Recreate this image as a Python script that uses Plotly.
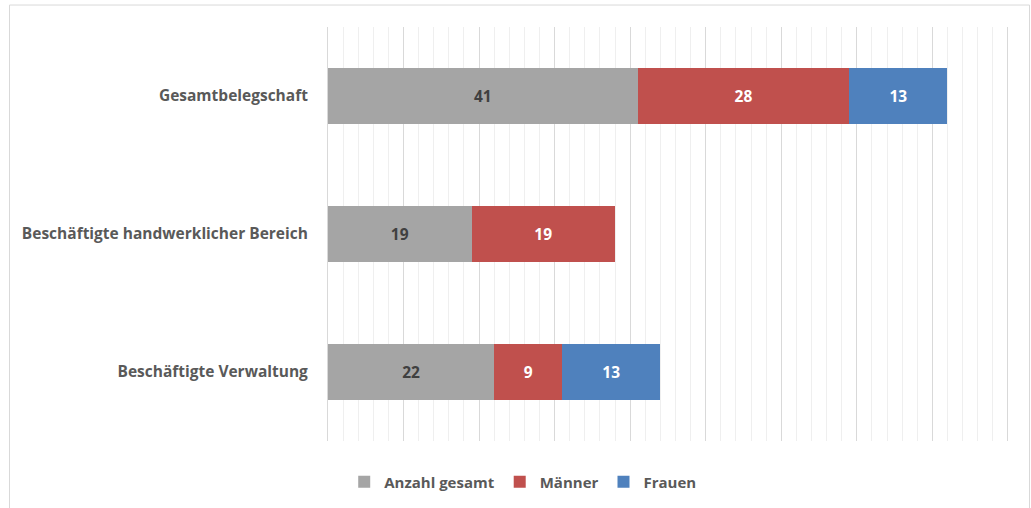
import plotly.graph_objects as go

categories = ["Gesamtbelegschaft", "Beschäftigte handwerklicher Bereich", "Beschäftigte Verwaltung"]
anzahl_gesamt = [41, 19, 22]
maenner = [28, 19, 9]
frauen = [13, None, 13]

series = [
    ("Anzahl gesamt", anzahl_gesamt, "#A5A5A5", "#404040"),
    ("Männer", maenner, "#C0504D", "#FFFFFF"),
    ("Frauen", frauen, "#4F81BD", "#FFFFFF"),
]

fig = go.Figure()
for name, vals, color, tcolor in series:
    fig.add_trace(go.Bar(
        y=categories, x=vals, name=name, orientation="h",
        marker=dict(color=color, line=dict(width=0)),
        text=[("" if v is None else str(v)) for v in vals],
        textposition="inside", insidetextanchor="middle",
        textfont=dict(family="Open Sans", size=15.5, color=tcolor, weight="bold"),
        constraintext="none",
    ))

fig.update_layout(
    barmode="stack",
    bargap=0.6,
    width=1031, height=508,
    margin=dict(l=328, r=22, t=27, b=67, autoexpand=False),
    paper_bgcolor="white", plot_bgcolor="white",
    font=dict(family="Open Sans", color="#595959"),
    showlegend=True,
    legend=dict(orientation="h", xref="container", yref="container",
                x=0.507, xanchor="center", y=0.051, yanchor="middle",
                font=dict(size=15, color="#595959", weight="bold"),
                itemwidth=30, traceorder="normal"),
    xaxis=dict(range=[0, 90.15], dtick=10, showticklabels=False, showgrid=True,
               gridcolor="#D9D9D9", gridwidth=1, zeroline=False, showline=False,
               automargin=False,
               minor=dict(dtick=2, showgrid=True, gridcolor="#EFEFEF", gridwidth=1)),
    yaxis=dict(categoryorder="array", categoryarray=categories[::-1],
               tickfont=dict(size=15.5, color="#595959", weight="bold"),
               ticks="", ticklabelstandoff=16, showgrid=False, zeroline=False,
               automargin=False,
               showline=True, linecolor="#D9D9D9", linewidth=1),
    shapes=[dict(type="rect", xref="paper", yref="paper",
                 x0=-0.4677, x1=1.0301, y0=-0.2, y1=1.0531,
                 line=dict(color="#D9D9D9", width=1), fillcolor="rgba(0,0,0,0)", layer="below")],
)

fig.write_html("out.html", config={"displayModeBar": False},
               post_script="document.body.style.margin='0';document.body.style.overflow='hidden';")
